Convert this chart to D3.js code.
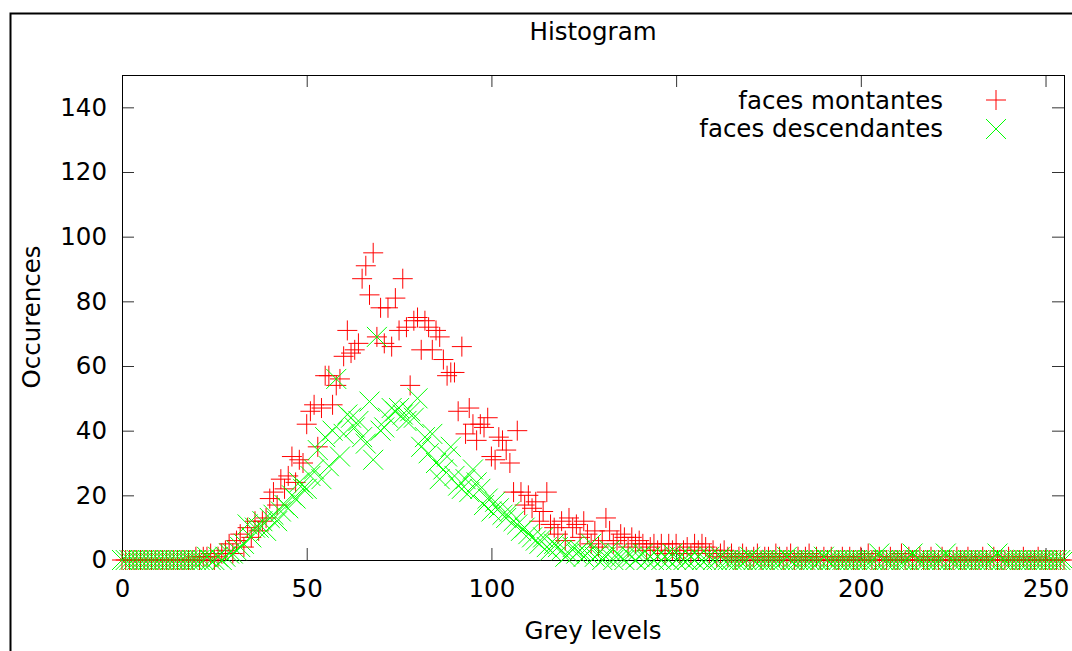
<!DOCTYPE html>
<html><head><meta charset="utf-8">
<script src="https://cdn.jsdelivr.net/npm/d3@7"></script>
<style>
body{margin:0;background:#fff}
svg{display:block;font-family:"DejaVu Sans",sans-serif}
</style>
</head><body>
<svg id="chart" width="1072" height="651"></svg>
<script>
// Grey levels 0..255 (categories)
const greyLevels = d3.range(0, 256);

const facesMontantes = [
  0,0,0,0,0,0,0,0,0,0, 0,0,0,0,0,0,0,0,0,0,
  1,0,1,1,2,0,1,2,3,5,
  2,6,8,4,10,7,12,9,12,13,
  19,21,17,25,22,26,32,24,31,30,
  42,46,48,35,47,57,57,48,54,56,
  63,71,64,65,67,87,91,82,95,69,
  78,67,78,66,81,71,87,72,54,74,
  75,65,74,72,65,71,69,62,57,58,
  58,46,66,39,47,42,37,42,41,44,
  32,31,38,37,34,30,21,40,21,17,
  20,16,18,12,15,21,11,10,8,12,
  6,13,10,11,7,12,8,5,9,4,
  6,13,9,5,6,8,7,4,7,5,
  6,5,3,4,5,3,5,2,5,3,
  5,2,3,4,2,5,3,5,4,2,
  3,1,2,3,1,2,0,1,2,1,
  0,1,2,0,1,1,0,2,1,0,
  1,2,0,1,0,1,2,0,1,0,
  1,0,1,0,0,1,0,1,0,0,
  1,0,2,0,0,1,0,0,1,0,
  0,2,0,1,0,0,1,0,0,1,
  0,0,1,0,0,0,1,0,0,1,
  0,0,0,1,0,0,1,0,0,0,
  1,0,0,0,1,0,0,0,1,0,
  0,0,0,0,0,0
];

const facesDescendantes = [
  0,0,0,0,0,0,0,0,0,0, 0,0,0,0,0,0,0,0,0,0,
  0,0,0,1,0,0,1,0,1,2,
  2,3,4,5,11,7,10,10,12,9,
  13,14,12,15,17,16,20,19,24,22,
  22,26,28,34,25,38,29,40,56,32,
  39,45,44,41,43,38,36,49,31,69,
  40,41,44,47,46,47,45,43,46,44,
  50,35,38,33,39,30,25,28,32,35,
  26,23,22,25,21,28,24,22,17,19,
  15,18,16,14,13,15,12,11,9,10,
  8,7,6,5,7,4,3,5,4,3,
  1,2,4,2,3,1,2,5,1,2,
  0,1,3,0,2,1,0,2,1,0,
  1,2,0,1,0,1,0,1,0,2,
  0,1,0,0,1,0,1,0,0,1,
  0,0,1,0,0,0,0,0,0,0,
  1,0,0,0,0,0,0,0,0,0,
  1,0,0,0,0,0,0,0,0,0,
  1,0,0,0,0,0,0,0,0,0,
  0,0,0,0,0,2,0,0,0,0,
  0,0,0,0,2,0,0,0,0,0,
  0,0,0,2,0,0,0,0,0,0,
  0,0,0,0,0,0,0,2,0,0,
  0,0,0,0,0,0,0,0,0,0,
  0,0,0,0,0,0
];

const xTickValues = [0, 50, 100, 150, 200, 250];
const yTickValues = [0, 20, 40, 60, 80, 100, 120, 140];
const seriesNames = ["faces montantes", "faces descendantes"];
const seriesColors = ["#ff0000", "#00ff00"];

const svg = d3.select("#chart");
svg.append("rect").attr("width", 1072).attr("height", 651).attr("fill", "#fff");

// outer frame (partial)
svg.append("path").attr("d", "M10.5,651V13.5H1072")
  .attr("fill", "none").attr("stroke", "#000").attr("stroke-width", 2);

const L = 122, R = 1064, T = 75, B = 560;
const x = d3.scaleLinear().domain([0, 255]).range([L, R]);
const y = d3.scaleLinear().domain([0, 150]).range([B, T]);

const fs = 24.5;
function styleAxis(g) {
  g.select(".domain").remove();
  g.selectAll(".tick line").attr("stroke", "#333");
  g.selectAll(".tick text").attr("font-size", fs).attr("fill", "#000")
    .attr("font-family", '"DejaVu Sans", sans-serif');
}

svg.append("g").attr("transform", `translate(0,${B})`)
  .call(d3.axisBottom(x).tickValues(xTickValues).tickSize(-12).tickPadding(20))
  .call(styleAxis);
svg.append("g").attr("transform", `translate(0,${T})`)
  .call(d3.axisTop(x).tickValues(xTickValues).tickSize(-12).tickFormat(""))
  .call(styleAxis);
svg.append("g").attr("transform", `translate(${L},0)`)
  .call(d3.axisLeft(y).tickValues(yTickValues).tickSize(-12).tickPadding(15))
  .call(styleAxis);
svg.append("g").attr("transform", `translate(${R},0)`)
  .call(d3.axisRight(y).tickValues(yTickValues).tickSize(-12).tickFormat(""))
  .call(styleAxis);

svg.append("rect").attr("x", L + 0.5).attr("y", T + 0.5)
  .attr("width", R - L).attr("height", B - T)
  .attr("fill", "none").attr("stroke", "#000").attr("stroke-width", 1);

const plusPath = "M-10,0H10M0,-10V10";
const crossPath = "M-10,-10L10,10M-10,10L10,-10";

svg.append("g").selectAll("path")
  .data(greyLevels)
  .join("path")
  .attr("transform", d => `translate(${x(d)},${y(facesMontantes[d])})`)
  .attr("d", plusPath)
  .attr("fill", "none").attr("stroke", seriesColors[0]).attr("stroke-width", 1);

svg.append("g").selectAll("path")
  .data(greyLevels)
  .join("path")
  .attr("transform", d => `translate(${x(d)},${y(facesDescendantes[d])})`)
  .attr("d", crossPath)
  .attr("fill", "none").attr("stroke", seriesColors[1]).attr("stroke-width", 1);

// legend
const legY = [109, 137], legMarkY = [100, 129];
seriesNames.forEach((n, i) => {
  svg.append("text").attr("x", 943).attr("y", legY[i]).attr("text-anchor", "end")
    .attr("font-size", fs).text(n);
  svg.append("path").attr("transform", `translate(996,${legMarkY[i]})`)
    .attr("d", i === 0 ? plusPath : crossPath)
    .attr("fill", "none").attr("stroke", seriesColors[i]).attr("stroke-width", 1);
});

svg.append("text").attr("x", (L + R) / 2).attr("y", 40).attr("text-anchor", "middle")
  .attr("font-size", fs).text("Histogram");
svg.append("text").attr("x", (L + R) / 2).attr("y", 639).attr("text-anchor", "middle")
  .attr("font-size", fs).text("Grey levels");
svg.append("text").attr("transform", "translate(40,317) rotate(-90)")
  .attr("text-anchor", "middle").attr("font-size", fs).text("Occurences");
</script>
</body></html>
